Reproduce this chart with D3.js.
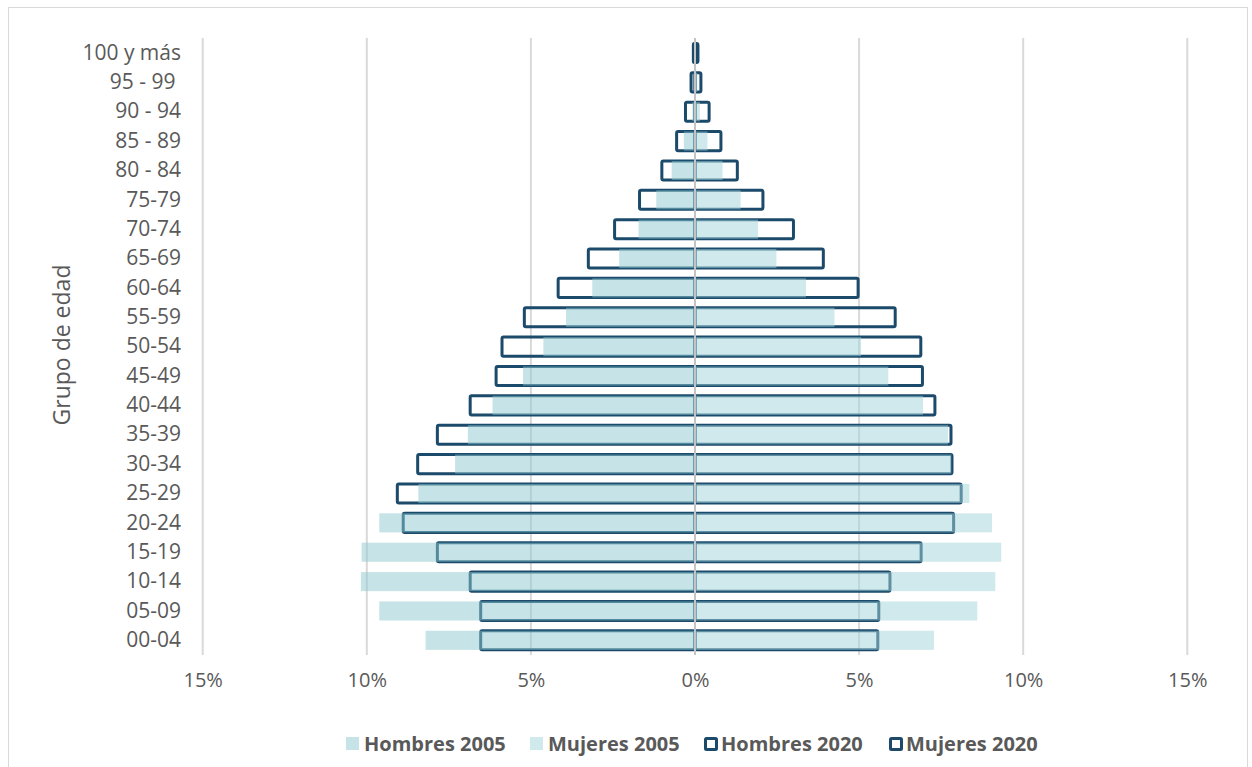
<!DOCTYPE html>
<html>
<head>
<meta charset="utf-8">
<script src="https://cdn.jsdelivr.net/npm/d3@7"></script>
<style>
  html, body { margin: 0; padding: 0; background: #ffffff; }
  svg { display: block; }
  text { font-family: "Open Sans", "Noto Sans", sans-serif; fill: #595959; }
</style>
</head>
<body>
<svg id="chart" width="1252" height="767"></svg>
<script>
// Age groups, top of the pyramid first
const grupos = ["100 y más", "95 - 99 ", "90 - 94", "85 - 89", "80 - 84", "75-79", "70-74",
  "65-69", "60-64", "55-59", "50-54", "45-49", "40-44", "35-39", "30-34", "25-29",
  "20-24", "15-19", "10-14", "05-09", "00-04"];

// Share of total population (%) per age group
const hombres2005 = [0.02, 0.04, 0.08, 0.34, 0.71, 1.18, 1.72, 2.31, 3.13, 3.93, 4.62,
  5.24, 6.17, 6.92, 7.31, 8.43, 9.62, 10.16, 10.18, 9.62, 8.21];
const mujeres2005 = [0.03, 0.07, 0.15, 0.38, 0.84, 1.39, 1.92, 2.48, 3.38, 4.25, 5.06,
  5.89, 6.95, 7.71, 7.81, 8.36, 9.05, 9.33, 9.15, 8.60, 7.28];
const hombres2020 = [0.05, 0.12, 0.29, 0.56, 1.01, 1.69, 2.45, 3.25, 4.17, 5.20, 5.88,
  6.06, 6.85, 7.85, 8.45, 9.07, 8.89, 7.85, 6.85, 6.53, 6.53];
const mujeres2020 = [0.09, 0.18, 0.43, 0.79, 1.29, 2.07, 3.00, 3.91, 4.97, 6.10, 6.88,
  6.93, 7.31, 7.80, 7.83, 8.11, 7.88, 6.89, 5.94, 5.60, 5.57];

const ticks = [-15, -10, -5, 0, 5, 10, 15];
const serieNames = ["Hombres 2005", "Mujeres 2005", "Hombres 2020", "Mujeres 2020"];

const svg = d3.select("#chart");
const navy = "#1b4a6b";
const fillH = "#8dc9cf", fillM = "#a1d3d9";

// Chart frame
svg.append("rect")
  .attr("x", 8.5).attr("y", 7.5).attr("width", 1239).attr("height", 800)
  .attr("fill", "none").attr("stroke", "#d9d9d9").attr("stroke-width", 1);

const x = d3.scaleLinear().domain([-15, 15]).range([202.7, 1187.3]);
const y = d3.scaleBand().domain(grupos).range([38.3, 655]).paddingInner(0.35).paddingOuter(0.175);

const plotTop = 38, plotBottom = 655;

// Vertical gridlines
svg.append("g").selectAll("line")
  .data(ticks.filter(t => t !== 0))
  .join("line")
  .attr("x1", d => x(d)).attr("x2", d => x(d))
  .attr("y1", plotTop).attr("y2", plotBottom)
  .attr("stroke", "#d9d9d9").attr("stroke-width", 2);

const rows = grupos.map((g, i) => ({
  g, h05: hombres2005[i], m05: mujeres2005[i], h20: hombres2020[i], m20: mujeres2020[i]
}));

// 2020 outlines (no fill)
const outline = svg.append("g")
  .attr("fill", "none").attr("stroke", navy).attr("stroke-width", 3)
  .attr("stroke-linejoin", "round");
outline.selectAll("rect.h20").data(rows).join("rect")
  .attr("class", "h20")
  .attr("x", d => x(-d.h20)).attr("width", d => x(0) - x(-d.h20))
  .attr("y", d => y(d.g)).attr("height", y.bandwidth()).attr("rx", 1.5);
outline.selectAll("rect.m20").data(rows).join("rect")
  .attr("class", "m20")
  .attr("x", x(0)).attr("width", d => x(d.m20) - x(0))
  .attr("y", d => y(d.g)).attr("height", y.bandwidth()).attr("rx", 1.5);

// 2005 semi-transparent filled bars
const filled = svg.append("g").attr("fill-opacity", 0.5);
filled.selectAll("rect.h05").data(rows).join("rect")
  .attr("class", "h05").attr("fill", fillH)
  .attr("x", d => x(-d.h05)).attr("width", d => x(0) - x(-d.h05))
  .attr("y", d => y(d.g)).attr("height", y.bandwidth());
filled.selectAll("rect.m05").data(rows).join("rect")
  .attr("class", "m05").attr("fill", fillM)
  .attr("x", x(0)).attr("width", d => x(d.m05) - x(0))
  .attr("y", d => y(d.g)).attr("height", y.bandwidth());

// Zero axis line
svg.append("line")
  .attr("x1", x(0)).attr("x2", x(0)).attr("y1", plotTop).attr("y2", plotBottom)
  .attr("stroke", "#c4c4c4").attr("stroke-width", 2);

// Age group labels
const yAxis = d3.axisLeft(y).tickSize(0).tickPadding(0);
const yg = svg.append("g").attr("transform", "translate(181,0)").call(yAxis);
yg.select(".domain").remove();
yg.selectAll("text")
  .style("font-family", "'Open Sans', 'Noto Sans', sans-serif")
  .style("font-size", "21px").style("white-space", "pre")
  .attr("fill", "#595959");

// Percentage labels
const xAxis = d3.axisBottom(x).tickValues(ticks).tickSize(0).tickPadding(0)
  .tickFormat(d => Math.abs(d) + "%");
const xg = svg.append("g").attr("transform", "translate(0,673)").call(xAxis);
xg.select(".domain").remove();
xg.selectAll("text")
  .style("font-family", "'Open Sans', 'Noto Sans', sans-serif")
  .style("font-size", "20px").attr("fill", "#595959");

// Axis title
svg.append("text")
  .attr("transform", "translate(70,345) rotate(-90)")
  .attr("text-anchor", "middle")
  .style("font-size", "23px")
  .text("Grupo de edad");

// Legend
const legendX = [346, 530, 704, 889];
const legend = svg.append("g");
serieNames.forEach((name, i) => {
  const gx = legendX[i];
  const item = legend.append("g").attr("transform", `translate(${gx},737)`);
  if (i < 2) {
    item.append("rect").attr("x", 0).attr("y", 0).attr("width", 13).attr("height", 13)
      .attr("fill", i === 0 ? fillH : fillM).attr("fill-opacity", 0.5);
  } else {
    item.append("rect").attr("x", 1.5).attr("y", 1.5).attr("width", 11).attr("height", 11)
      .attr("fill", "#ffffff").attr("stroke", navy).attr("stroke-width", 3).attr("rx", 1);
  }
  item.append("text")
    .attr("x", i < 2 ? 18 : 17).attr("y", 14)
    .style("font-size", "20px").style("font-weight", "bold")
    .text(name);
});
</script>
</body>
</html>
